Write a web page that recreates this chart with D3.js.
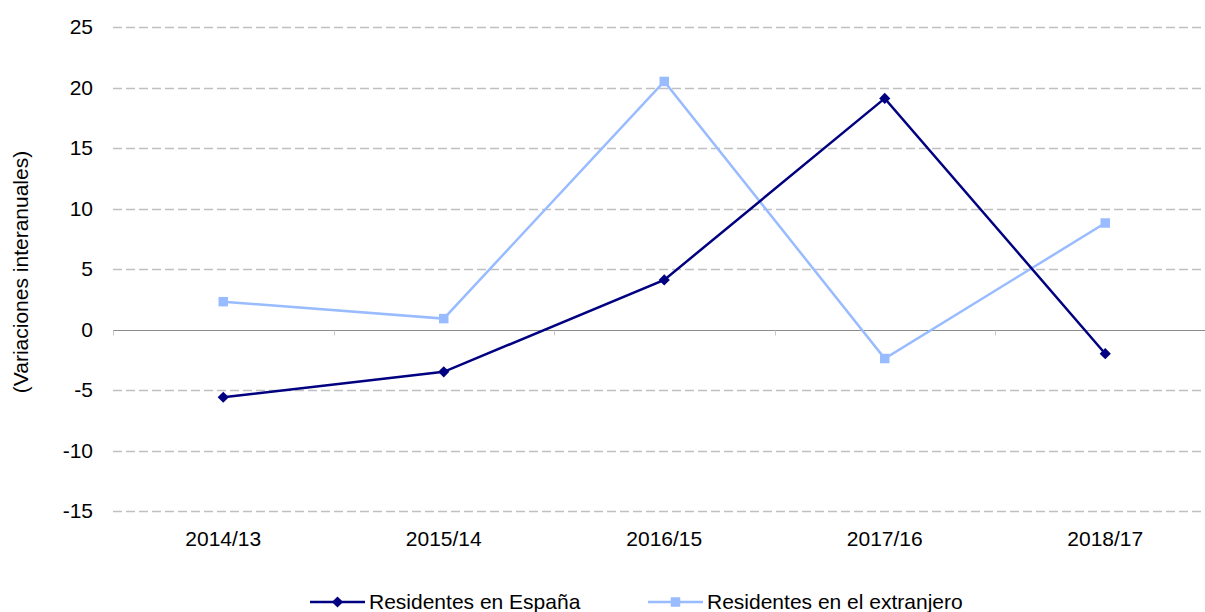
<!DOCTYPE html>
<html><head><meta charset="utf-8">
<script src="https://cdn.jsdelivr.net/npm/d3@7"></script>
<style>body{margin:0;background:#fff;}svg{display:block;font-family:"Liberation Sans",Arial,Helvetica,sans-serif;}</style>
</head><body>
<svg id="c" width="1205" height="612"></svg>
<script>
const categories = ["2014/13","2015/14","2016/15","2017/16","2018/17"];
const espana = [-5.6, -3.5, 4.1, 19.1, -2.0];
const extranjero = [2.3, 0.9, 20.5, -2.4, 8.8];
const yTicks = [-15,-10,-5,0,5,10,15,20,25];
const seriesNames = ["Residentes en España","Residentes en el extranjero"];
const yLabel = "(Variaciones interanuales)";

const svg = d3.select("#c");
const left = 113, bandStep = 220.5;
const x = d3.scaleBand().domain(categories).range([left, left + bandStep*categories.length]).paddingInner(0).paddingOuter(0);
const y = d3.scaleLinear().domain([-15,25]).range([511, 27]);
const gridRight = 1205;
const fs = 21;

// gridlines
svg.append("g").selectAll("line").data(yTicks.filter(d=>d!==0)).join("line")
  .attr("x1", left).attr("x2", gridRight)
  .attr("y1", d=>Math.round(y(d))+0.5).attr("y2", d=>Math.round(y(d))+0.5)
  .attr("stroke","#c0c0c0").attr("stroke-width",1.5).attr("stroke-dasharray","9,4");

// y tick labels
svg.append("g").selectAll("text").data(yTicks).join("text")
  .attr("x", 93).attr("y", d=>y(d)).attr("dy","0.35em")
  .attr("text-anchor","end").attr("font-size",fs).attr("fill","#000").text(d=>d);

// zero axis line
const y0 = Math.round(y(0))+0.5;
svg.append("line").attr("x1",left).attr("x2",gridRight).attr("y1",y0).attr("y2",y0)
  .attr("stroke","#8c8c8c").attr("stroke-width",1);
const bounds = categories.map(c=>x(c)).concat([x(categories[categories.length-1])+x.bandwidth()]);
svg.append("g").selectAll("line").data(bounds).join("line")
  .attr("x1",d=>Math.round(d)+0.5).attr("x2",d=>Math.round(d)+0.5)
  .attr("y1",y0).attr("y2",y0+5).attr("stroke","#c8c8c8").attr("stroke-width",1);

// x labels
svg.append("g").selectAll("text").data(categories).join("text")
  .attr("x", d=>x(d)+x.bandwidth()/2).attr("y", 546)
  .attr("text-anchor","middle").attr("font-size",fs).attr("fill","#000").text(d=>d);

// y axis title
svg.append("text").attr("transform","translate(28,272) rotate(-90)")
  .attr("text-anchor","middle").attr("font-size",fs).attr("fill","#000").text(yLabel);

const cx = d => x(d)+x.bandwidth()/2;
const line = d3.line().x((d,i)=>cx(categories[i])).y(d=>y(d));

const colEsp = "#000080", colExt = "#99bbff";

svg.append("path").datum(extranjero).attr("d",line).attr("fill","none").attr("stroke",colExt).attr("stroke-width",2.5);
svg.append("path").datum(espana).attr("d",line).attr("fill","none").attr("stroke",colEsp).attr("stroke-width",2.5);

const sq = d3.symbol().type(d3.symbolSquare).size(90);
const dm = d3.symbol().type(d3.symbolDiamond2).size(80);

svg.append("g").selectAll("path").data(extranjero).join("path")
  .attr("d",sq).attr("fill",colExt)
  .attr("transform",(d,i)=>`translate(${cx(categories[i])},${y(d)})`);
svg.append("g").selectAll("path").data(espana).join("path")
  .attr("d",dm).attr("fill",colEsp)
  .attr("transform",(d,i)=>`translate(${cx(categories[i])},${y(d)})`);

// legend
const legend = [
  {name: seriesNames[0], color: colEsp, sym: dm, x0: 310},
  {name: seriesNames[1], color: colExt, sym: sq, x0: 648}
];
const ly = 602;
const lg = svg.append("g").selectAll("g").data(legend).join("g");
lg.append("line").attr("x1",d=>d.x0).attr("x2",d=>d.x0+55).attr("y1",ly).attr("y2",ly)
  .attr("stroke",d=>d.color).attr("stroke-width",2.5);
lg.append("path").attr("d",d=>d.sym()).attr("fill",d=>d.color)
  .attr("transform",d=>`translate(${d.x0+27.5},${ly})`);
lg.append("text").attr("x",d=>d.x0+59).attr("y",ly).attr("dy","0.35em")
  .attr("font-size",fs).attr("fill","#000").text(d=>d.name);
</script>
</body></html>
